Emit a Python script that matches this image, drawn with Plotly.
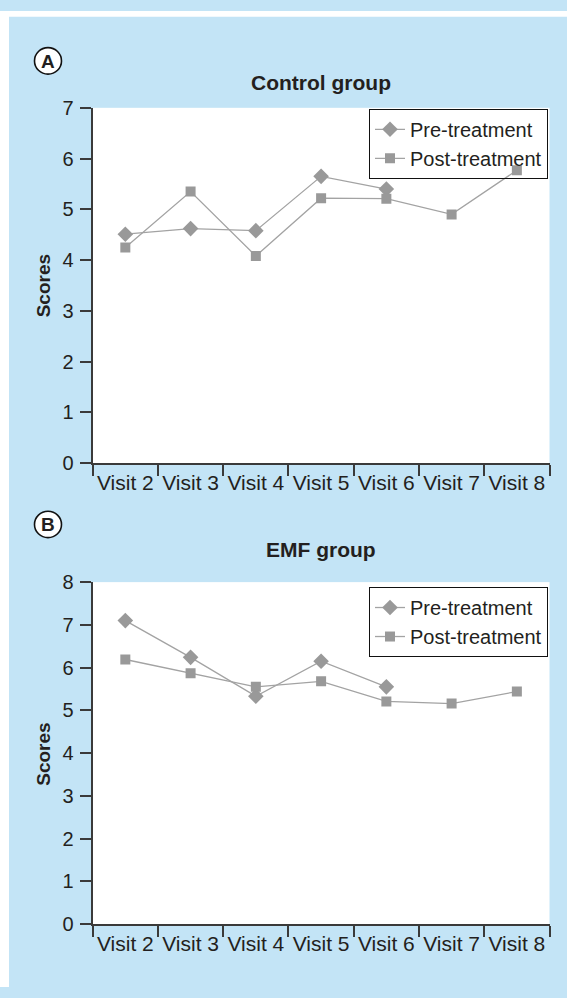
import plotly.graph_objects as go

# ---- data ----
visits = ["Visit 2", "Visit 3", "Visit 4", "Visit 5", "Visit 6", "Visit 7", "Visit 8"]
pre_visits = ["Visit 2", "Visit 3", "Visit 4", "Visit 5", "Visit 6"]

control_pre = [4.51, 4.62, 4.58, 5.65, 5.40]
control_post = [4.25, 5.35, 4.08, 5.22, 5.21, 4.90, 5.77]

emf_pre = [7.10, 6.24, 5.33, 6.15, 5.55]
emf_post = [6.19, 5.87, 5.55, 5.68, 5.21, 5.16, 5.44]

control_yticks = [0, 1, 2, 3, 4, 5, 6, 7]
emf_yticks = [0, 1, 2, 3, 4, 5, 6, 7, 8]

# ---- styling ----
W, H = 567, 998
BLUE = "#c3e4f6"
TXT = "#231f20"
AX = "#3a3a3a"
LINE = "#a3a3a3"
MARK = "#999999"
FONT = "Liberation Sans, Arial, Helvetica, sans-serif"


def px_x(x):
    return x / W


def px_y(y):
    return (H - y) / H


fig = go.Figure()

common_line = dict(color=LINE, width=1.3)

fig.add_trace(go.Scatter(x=pre_visits, y=control_pre, mode="lines+markers", name="Pre-treatment",
                         line=common_line, marker=dict(symbol="diamond", size=12, color=MARK),
                         xaxis="x", yaxis="y", legend="legend"))
fig.add_trace(go.Scatter(x=visits, y=control_post, mode="lines+markers", name="Post-treatment",
                         line=common_line, marker=dict(symbol="square", size=10, color=MARK),
                         xaxis="x", yaxis="y", legend="legend"))
fig.add_trace(go.Scatter(x=pre_visits, y=emf_pre, mode="lines+markers", name="Pre-treatment",
                         line=common_line, marker=dict(symbol="diamond", size=12, color=MARK),
                         xaxis="x2", yaxis="y2", legend="legend2"))
fig.add_trace(go.Scatter(x=visits, y=emf_post, mode="lines+markers", name="Post-treatment",
                         line=common_line, marker=dict(symbol="square", size=10, color=MARK),
                         xaxis="x2", yaxis="y2", legend="legend2"))

xdom = [px_x(92.7), px_x(549.5)]
yA = [px_y(462.3), px_y(99)]
yB = [px_y(933.7), px_y(584)]

xcommon = dict(type="category", categoryorder="array", categoryarray=visits,
               range=[-0.5, 6.5], domain=xdom, showline=True, linecolor=AX, linewidth=2,
               ticks="outside", ticklen=11, tickwidth=1.5, tickcolor=AX, tickson="boundaries",
               showgrid=False, zeroline=False, fixedrange=True, tickangle=0,
               tickfont=dict(family=FONT, size=21, color=TXT))
ycommon = dict(showline=True, linecolor=AX, linewidth=2, ticks="outside", ticklen=11,
               tickwidth=1.5, tickcolor=AX, showgrid=False, zeroline=False, fixedrange=True,
               tickfont=dict(family=FONT, size=20, color=TXT), ticklabelstandoff=2)

legend_common = dict(bordercolor="#111111", borderwidth=1,
                     font=dict(family=FONT, size=20, color=TXT), xanchor="right", yanchor="top",
                     tracegroupgap=0, itemwidth=30)

fig.update_layout(
    width=W, height=H,
    margin=dict(l=0, r=0, t=0, b=0),
    paper_bgcolor=BLUE,
    plot_bgcolor="white",
    font=dict(family=FONT, color=TXT),
    xaxis=dict(xcommon, anchor="y"),
    yaxis=dict(ycommon, domain=yA, range=[0, 7], tickvals=control_yticks, anchor="x"),
    xaxis2=dict(xcommon, anchor="y2"),
    yaxis2=dict(ycommon, domain=yB, range=[0, 8], tickvals=emf_yticks, anchor="x2"),
    legend=dict(legend_common, x=px_x(548), y=px_y(100), bgcolor="rgba(255,255,255,0)"),
    legend2=dict(legend_common, x=px_x(548), y=px_y(589), bgcolor="white"),
    showlegend=True,
)

shapes = [
    # white strips at the top and left of the blue panel
    dict(type="rect", xref="paper", yref="paper", x0=0, x1=1, y0=px_y(6), y1=1,
         fillcolor="white", line=dict(width=0), layer="below"),
    dict(type="rect", xref="paper", yref="paper", x0=0, x1=px_x(9), y0=0, y1=1,
         fillcolor="white", line=dict(width=0), layer="below"),
]
for cy in (51, 525):
    shapes.append(dict(type="circle", xref="paper", yref="paper",
                       x0=px_x(48 - 13.5), x1=px_x(48 + 13.5),
                       y0=px_y(cy + 13.5), y1=px_y(cy - 13.5),
                       fillcolor="white", line=dict(color="#111111", width=1.6)))
fig.update_layout(shapes=shapes)

annotations = [
    dict(text="<b>A</b>", x=px_x(48), y=px_y(51.5), xref="paper", yref="paper",
         showarrow=False, font=dict(family=FONT, size=19, color=TXT), xanchor="center", yanchor="middle"),
    dict(text="<b>B</b>", x=px_x(48), y=px_y(525.5), xref="paper", yref="paper",
         showarrow=False, font=dict(family=FONT, size=19, color=TXT), xanchor="center", yanchor="middle"),
    dict(text="<b>Control group</b>", x=px_x(321), y=px_y(73.5), xref="paper", yref="paper",
         showarrow=False, font=dict(family=FONT, size=21, color=TXT), xanchor="center", yanchor="middle"),
    dict(text="<b>EMF group</b>", x=px_x(321), y=px_y(551), xref="paper", yref="paper",
         showarrow=False, font=dict(family=FONT, size=21, color=TXT), xanchor="center", yanchor="middle"),
    dict(text="<b>Scores</b>", x=px_x(43.5), y=px_y(281), xref="paper", yref="paper", textangle=-90,
         showarrow=False, font=dict(family=FONT, size=19, color=TXT), xanchor="center", yanchor="middle"),
    dict(text="<b>Scores</b>", x=px_x(43.5), y=px_y(760), xref="paper", yref="paper", textangle=-90,
         showarrow=False, font=dict(family=FONT, size=19, color=TXT), xanchor="center", yanchor="middle"),
]
fig.update_layout(annotations=annotations)

post = """
document.documentElement.style.margin='0';
document.body.style.margin='0';
document.body.style.overflow='hidden';
"""

fig.write_html("out.html", config={"displayModeBar": False}, post_script=post)
